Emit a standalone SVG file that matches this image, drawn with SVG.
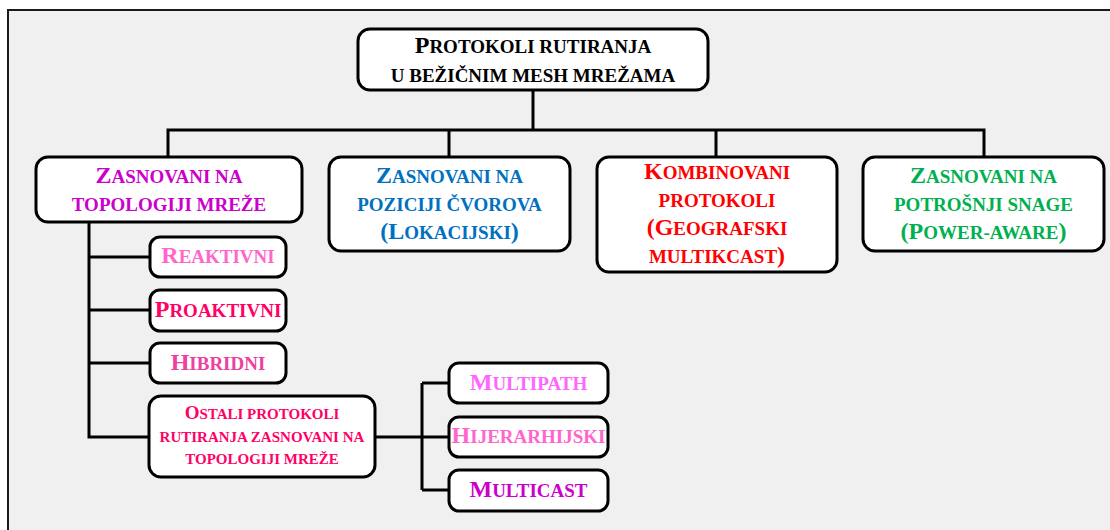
<svg xmlns="http://www.w3.org/2000/svg" width="1110" height="530" viewBox="0 0 1110 530">
<style>
.box{fill:#ffffff;stroke:#000000;stroke-width:3}
.ln{fill:none;stroke:#000000;stroke-width:3}
text{font-family:"Liberation Serif","Times New Roman",serif;font-weight:bold;text-anchor:middle;font-size:19px}
.b{font-size:24px}
.sm{font-size:15px}
.smb{font-size:19px}
</style>
<rect x="0" y="0" width="1110" height="530" fill="#ffffff"/>
<rect x="8" y="10" width="1110" height="530" fill="#f0f0f0" stroke="#1a1a1a" stroke-width="2"/>
<g id="connectors">
<path class="ln" d="M533 90V130M168 157V130H984V157M449 130V157M716 130V157"/>
<path class="ln" d="M89 222V437H149M89 257H150M89 310H150M89 363H150"/>
<path class="ln" d="M375 437H422M422 383V490M422 383H449M422 437H449M422 490H449"/>
</g>
<g id="root">
<rect class="box" x="358" y="29" width="350" height="61" rx="12"/>
<text x="533" y="53" fill="#000000"><tspan class="b">P</tspan>ROTOKOLI RUTIRANJA</text>
<text x="533" y="82" fill="#000000">U BEŽIČNIM MESH MREŽAMA</text>
</g>
<g id="topologija">
<rect class="box" x="36" y="157" width="266" height="65" rx="12"/>
<text x="169" y="183" fill="#cc00cc"><tspan class="b">Z</tspan>ASNOVANI NA</text>
<text x="169" y="211" fill="#cc00cc">TOPOLOGIJI MREŽE</text>
</g>
<g id="pozicija">
<rect class="box" x="329" y="157" width="241" height="94" rx="12"/>
<text x="449.5" y="183" fill="#0070c0"><tspan class="b">Z</tspan>ASNOVANI NA</text>
<text x="449.5" y="211" fill="#0070c0">POZICIJI ČVOROVA</text>
<text x="449.5" y="239" fill="#0070c0"><tspan class="b">(L</tspan>OKACIJSKI<tspan class="b">)</tspan></text>
</g>
<g id="kombinovani">
<rect class="box" x="597" y="157" width="240" height="115" rx="12"/>
<text x="717" y="179" fill="#ff0000"><tspan class="b">K</tspan>OMBINOVANI</text>
<text x="717" y="207" fill="#ff0000">PROTOKOLI</text>
<text x="717" y="235" fill="#ff0000"><tspan class="b">(G</tspan>EOGRAFSKI</text>
<text x="717" y="263" fill="#ff0000">MULTIKCAST<tspan class="b">)</tspan></text>
</g>
<g id="potrosnja">
<rect class="box" x="863" y="157" width="241" height="94" rx="12"/>
<text x="983.5" y="183" fill="#00b050"><tspan class="b">Z</tspan>ASNOVANI NA</text>
<text x="983.5" y="211" fill="#00b050">POTROŠNJI SNAGE</text>
<text x="983.5" y="239" fill="#00b050"><tspan class="b">(P</tspan>OWER-AWARE<tspan class="b">)</tspan></text>
</g>
<g id="reaktivni">
<rect class="box" x="150" y="237" width="136" height="40" rx="10"/>
<text x="218" y="263" fill="#ff66cc"><tspan class="b">R</tspan>EAKTIVNI</text>
</g>
<g id="proaktivni">
<rect class="box" x="150" y="290" width="136" height="41" rx="10"/>
<text x="218" y="317" fill="#ff0066"><tspan class="b">P</tspan>ROAKTIVNI</text>
</g>
<g id="hibridni">
<rect class="box" x="150" y="343" width="136" height="40" rx="10"/>
<text x="218" y="370" fill="#ee40a0"><tspan class="b">H</tspan>IBRIDNI</text>
</g>
<g id="ostali">
<rect class="box" x="149" y="396" width="226" height="81" rx="12"/>
<text class="sm" x="262" y="419" fill="#ff0066"><tspan class="smb">O</tspan>STALI PROTOKOLI</text>
<text class="sm" x="262" y="442" fill="#ff0066">RUTIRANJA ZASNOVANI NA</text>
<text class="sm" x="262" y="464" fill="#ff0066">TOPOLOGIJI MREŽE</text>
</g>
<g id="multipath">
<rect class="box" x="449" y="363" width="159" height="40" rx="10"/>
<text x="528.5" y="390" fill="#ff66ff"><tspan class="b">M</tspan>ULTIPATH</text>
</g>
<g id="hijerarhijski">
<rect class="box" x="449" y="417" width="159" height="40" rx="10"/>
<text x="528.5" y="443" fill="#ff66cc"><tspan class="b">H</tspan>IJERARHIJSKI</text>
</g>
<g id="multicast">
<rect class="box" x="449" y="470" width="159" height="41" rx="10"/>
<text x="528.5" y="497" fill="#cc00cc"><tspan class="b">M</tspan>ULTICAST</text>
</g>
</svg>
